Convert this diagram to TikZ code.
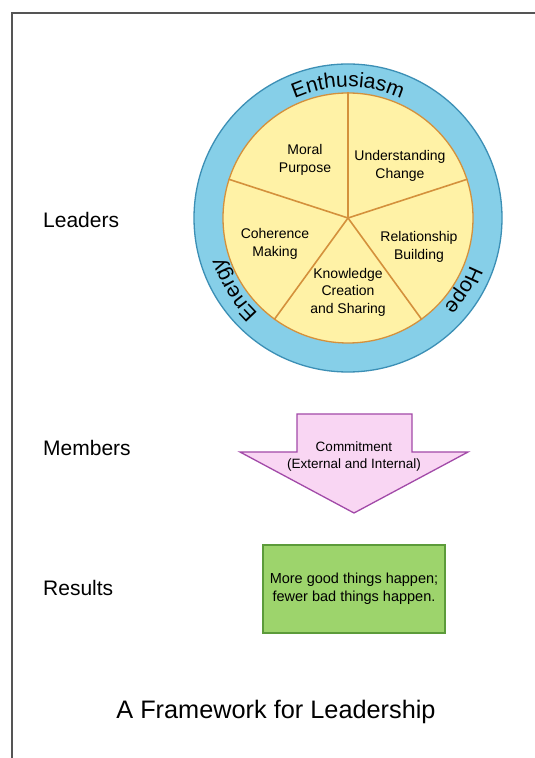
\documentclass[tikz,border=0pt]{standalone}
\usepackage{fontspec}
\setmainfont{Liberation Sans}
\usetikzlibrary{decorations.text}
\definecolor{ringblue}{HTML}{86CFE8}
\definecolor{ringborder}{HTML}{3C8FB5}
\definecolor{pieyellow}{HTML}{FFF2A6}
\definecolor{pieline}{HTML}{D4913C}
\definecolor{arrowpink}{HTML}{F9D6F3}
\definecolor{arrowborder}{HTML}{A24AA8}
\definecolor{boxgreen}{HTML}{9DD46C}
\definecolor{boxborder}{HTML}{5C9B3A}
\definecolor{framegray}{HTML}{555555}
\newcommand\ringfont{\fontsize{21}{24}\selectfont}
\tikzset{
  sidelabel/.style={anchor=west, inner sep=0pt, font=\fontsize{21}{24}\selectfont},
  sectorlabel/.style={align=center, inner sep=0pt, font=\fontsize{14}{17.5}\selectfont},
  ringtext/.style={decorate, decoration={text along path, text align=center, text={|\ringfont|#1}}},
}
\begin{document}
\begin{tikzpicture}[x=1pt,y=1pt]
\useasboundingbox (0,0) rectangle (535,758);
\fill[white] (0,0) rectangle (535,758);
% frame
\coordinate (fright) at (535,745);
\coordinate (fcorner) at (12,745);
\coordinate (fbottom) at (12,0);
\draw[framegray, line width=1.3pt] (fright) -- (fcorner) -- (fbottom);

% circle
\coordinate (C) at (348,540);
\node[circle, draw=ringborder, fill=ringblue, line width=1.3pt, minimum size=308pt, inner sep=0pt] (outer) at (C) {};
\node[circle, draw=pieline, fill=pieyellow, line width=1.3pt, minimum size=250pt, inner sep=0pt] (inner) at (C) {};
\foreach \a in {90,18,-54,-126,162} \draw[pieline, line width=1.6pt] (C) -- (inner.\a);

\begin{scope}[shift={(C)}]
\path[ringtext=Enthusiasm] (125:131) arc[start angle=125, end angle=55, radius=131];
\path[ringtext=Energy] (247:131) arc[start angle=247, end angle=177, radius=131];
\path[ringtext=Hope] (3:131) arc[start angle=3, end angle=-67, radius=131];
\end{scope}

\node[sectorlabel] (moral) at (305,598) {Moral\\Purpose};
\node[sectorlabel] (underst) at (400,592) {Understanding\\Change};
\node[sectorlabel] (coher) at (275,514) {Coherence\\Making};
\node[sectorlabel] (relat) at (419,511) {Relationship\\Building};
\node[sectorlabel] (knowl) at (348,466) {Knowledge\\Creation\\and Sharing};

% side labels
\node[sidelabel] (leaders) at (43,538) {Leaders};
\node[sidelabel] (members) at (43,310) {Members};
\node[sidelabel] (results) at (43,170) {Results};

% arrow
\coordinate (a1) at (297,344);
\coordinate (a2) at (412,344);
\coordinate (a3) at (412,306);
\coordinate (a4) at (468,306);
\coordinate (a5) at (354,245);
\coordinate (a6) at (240,306);
\coordinate (a7) at (297,306);
\draw[arrowborder, fill=arrowpink, line width=1.3pt, line join=miter] (a1) -- (a2) -- (a3) -- (a4) -- (a5) -- (a6) -- (a7) -- cycle;
\node[sectorlabel, font=\fontsize{13.5}{17}\selectfont] (commit) at (354,301) {Commitment\\(External and Internal)};

% results box
\node[draw=boxborder, fill=boxgreen, line width=1.5pt, minimum width=182pt, minimum height=88pt, align=center, font=\fontsize{14.5}{17.5}\selectfont] (resbox) at (354,169) {More good things happen;\\fewer bad things happen.};

% title
\node[font=\fontsize{25.3}{30}\selectfont, inner sep=0pt] (title) at (276,46) {A Framework for Leadership};
\end{tikzpicture}
\end{document}
